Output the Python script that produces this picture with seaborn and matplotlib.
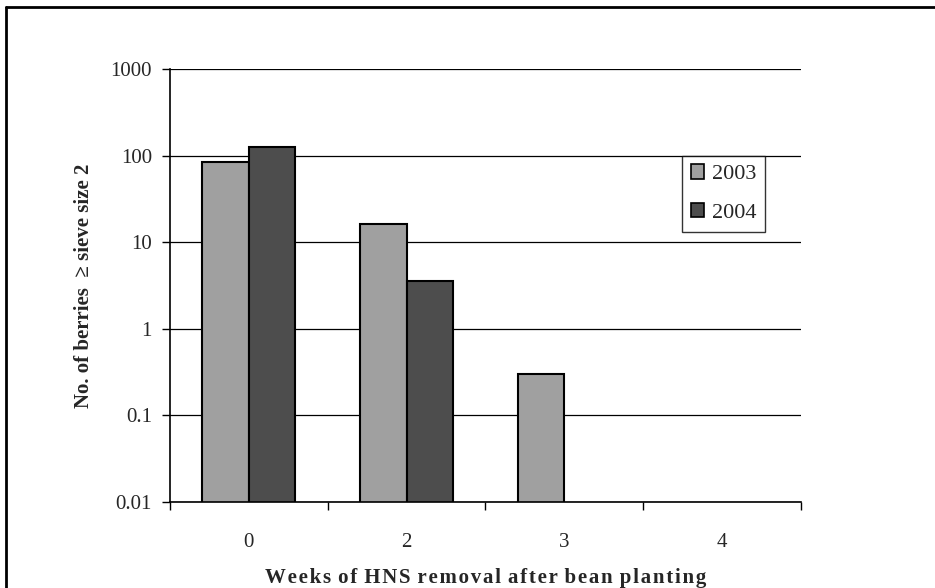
#!/usr/bin/env python3
"""
Berries >= sieve size 2 by week of HNS removal, log-scale bar chart.
"""

import numpy as np
import pandas as pd
import matplotlib
matplotlib.use('Agg')
import matplotlib.pyplot as plt
from matplotlib.lines import Line2D
from matplotlib.ticker import FixedLocator, NullFormatter
import seaborn as sns

# Data
weeks = ['0', '2', '3', '4']
years = ['2003', '2004']
berries_2003 = [85, 16.2, 0.3, np.nan]
berries_2004 = [124, 3.6, np.nan, np.nan]
y_ticks = [0.01, 0.1, 1, 10, 100, 1000]
y_tick_labels = ['0.01', '0.1', '1', '10', '100', '1000']
bar_colors = ['#a0a0a0', '#4d4d4d']

df = pd.DataFrame({
    'week': weeks * 2,
    'year': [years[0]] * len(weeks) + [years[1]] * len(weeks),
    'berries': berries_2003 + berries_2004,
})

sns.set_theme(style='white')
plt.rcParams['font.family'] = ['Liberation Serif', 'DejaVu Serif']

fig = plt.figure(figsize=(9.35, 5.88), dpi=100)
ax = fig.add_axes([0.1818, 0.1463, 0.6749, 0.7364])

sns.barplot(data=df, x='week', y='berries', hue='year', order=weeks,
            hue_order=years, palette=bar_colors, width=0.59, gap=0,
            edgecolor='black', linewidth=1.5, errorbar=None, ax=ax)

ax.set_yscale('log')
ax.set_ylim(0.01, 1000)
ax.set_xlim(-0.5, len(weeks) - 0.5)

# y axis ticks and grid
ax.yaxis.set_major_locator(FixedLocator(y_ticks))
ax.set_yticklabels(y_tick_labels)
ax.yaxis.set_minor_formatter(NullFormatter())
ax.yaxis.set_minor_locator(FixedLocator([]))
ax.tick_params(axis='y', which='major', direction='out', length=6, width=1,
               color='black', labelsize=15, pad=7, left=True)
ax.yaxis.grid(True, color='black', linewidth=0.9)
ax.set_axisbelow(True)

# x axis: labels at centers, tick marks at category boundaries
ax.set_xticks(range(len(weeks)))
ax.set_xticklabels(weeks)
ax.set_xticks(np.arange(-0.5, len(weeks), 1.0), minor=True)
ax.tick_params(axis='x', which='major', length=0, labelsize=15, pad=22)
ax.tick_params(axis='x', which='minor', direction='out', length=6, width=1,
               color='black', bottom=True)

for side in ['top', 'right']:
    ax.spines[side].set_visible(False)
for side in ['left', 'bottom']:
    ax.spines[side].set_color('black')
    ax.spines[side].set_linewidth(1.2)

# letter-spaced x label as in the original
xlabel = 'Weeks of HNS removal after bean planting'
xlabel_spaced = ' \u200a'.join('\u200a'.join(w) for w in xlabel.split(' '))
ax.set_xlabel(xlabel_spaced, fontsize=15, fontweight='bold', labelpad=12)
ax.set_ylabel('No. of berries  \u2265 sieve size 2', fontsize=15,
              fontweight='bold', labelpad=12)

# legend
handles, labels = ax.get_legend_handles_labels()
leg = ax.legend(handles, labels, loc='upper left',
                bbox_to_anchor=(0.811, 0.800), frameon=True, fancybox=False,
                edgecolor='black', fontsize=16, handlelength=0.6,
                handleheight=0.6, handletextpad=0.35, labelspacing=0.85,
                borderpad=0.4, borderaxespad=0)
leg.get_frame().set_linewidth(1.0)
for h in leg.legend_handles:
    h.set_edgecolor('black')
    h.set_linewidth(1.2)

# outer chart frame (top and left edges visible)
fig.add_artist(Line2D([5.5 / 935, 5.5 / 935], [1 - 7 / 588, 0],
                      transform=fig.transFigure, color='black', linewidth=2))
fig.add_artist(Line2D([5.5 / 935, 1], [1 - 7 / 588, 1 - 7 / 588],
                      transform=fig.transFigure, color='black', linewidth=2))

fig.savefig('out.png', dpi=100, facecolor='white')
